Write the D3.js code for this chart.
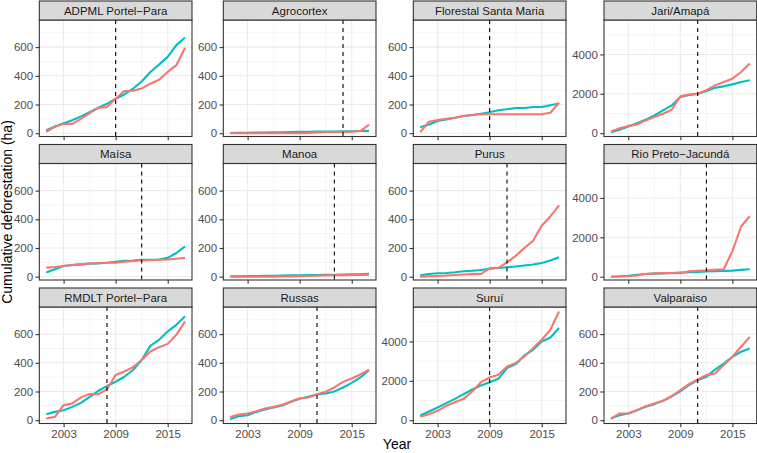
<!DOCTYPE html>
<html><head><meta charset="utf-8">
<script src="https://cdn.jsdelivr.net/npm/d3@7"></script>
<style>body{margin:0;background:#fff}svg{display:block;font-family:"Liberation Sans",Arial,sans-serif}</style>
</head><body><svg id="c" width="757" height="453"></svg>
<script>
const years = d3.range(2001, 2018);
const panels = ["ADPML Portel−Para","Agrocortex","Florestal Santa Maria","Jari/Amapá","Maísa","Manoa","Purus","Rio Preto−Jacundá","RMDLT Portel−Para","Russas","Suruí","Valparaiso"];
const interventionYear = [2009,2014,2009,2011,2012,2013,2011,2012,2008,2011,2009,2011];
const largeScale = [false,false,false,true,false,false,false,true,false,false,true,false];
// teal series (synthetic control) per panel
const tealSeries = [
 [20,47,70,90,117,147,177,205,240,270,310,360,427,478,532,614,667],
 [1,2,3,4,5,6,7,8,9,10,11,12,12,13,14,15,16],
 [42,61,85,96,108,120,127,136,146,160,167,176,176,183,183,195,207],
 [50,170,340,510,680,900,1160,1410,1840,1940,1990,2140,2310,2380,2480,2600,2690],
 [30,52,75,82,86,91,93,97,104,111,113,118,118,120,131,165,211],
 [2,3,4,5,6,7,8,9,10,11,12,13,14,15,16,17,20],
 [9,19,24,26,31,38,42,47,56,61,66,71,78,85,96,113,136],
 [0,20,50,100,140,155,170,190,205,225,240,260,275,295,310,345,380],
 [42,58,70,93,121,163,205,238,268,303,350,420,518,560,619,665,724],
 [9,28,35,58,74,88,102,128,149,163,179,186,200,228,260,298,349],
 [237,440,644,864,1085,1322,1560,1763,1932,2100,2644,2847,3288,3576,4000,4200,4680],
 [14,35,47,70,93,112,135,167,202,244,279,302,353,395,442,477,500]
];
// salmon series (observed) per panel
const redSeries = [
 [10,45,65,65,100,140,177,182,240,294,296,312,345,373,427,474,595],
 [0,0,0,0,0,0,0,0,0,2,5,8,8,9,10,15,60],
 [7,80,92,101,108,120,127,132,132,132,132,132,132,132,132,143,212],
 [85,255,370,440,650,820,990,1190,1870,1960,2010,2180,2430,2600,2770,3110,3540],
 [63,68,75,82,86,91,95,97,97,104,109,113,115,118,120,125,131],
 [0,0,0,0,0,0,1,2,3,5,7,9,10,11,12,13,14],
 [0,3,5,8,12,15,18,19,58,62,100,145,200,250,355,420,497],
 [0,10,20,60,140,170,180,180,175,280,300,320,350,380,1300,2550,3070],
 [12,23,105,117,159,182,182,215,315,339,369,420,479,509,532,595,689],
 [23,40,47,63,81,93,107,130,153,158,181,198,228,267,291,319,353],
 [170,305,475,730,915,1085,1458,1932,2170,2305,2730,2900,3237,3660,4085,4593,5525],
 [9,47,47,70,98,116,135,167,209,251,284,314,326,384,442,512,581]
];
const xTicks = [2003, 2009, 2015];
const xMinor = [2006, 2012];
const smallTicks = [0, 200, 400, 600];
const smallMinor = [100, 300, 500, 700];
const largeTicks = [0, 2000, 4000];
const largeMinor = [1000, 3000, 5000];
const smallDomain = [-23, 789];
const largeDomain = [-168, 5750];

const svg = d3.select("#c");
const colLeft = [39.3, 223.3, 413.3, 604];
const pw = 152.7, stripH = 19, ph = 116.5, rowStep = 143.5, top0 = 1;
const x = d3.scaleLinear().domain([2000.2, 2017.8]);
const line = (xs, ys) => d3.line().x((d,i)=>xs(years[i])).y(d=>ys(d));

panels.forEach((name, i) => {
  const r = Math.floor(i/4), c = i%4;
  const L = colLeft[c], T = top0 + r*rowStep + stripH;
  const xs = x.copy().range([L, L+pw]);
  const big = largeScale[i];
  const ys = d3.scaleLinear().domain(big ? largeDomain : smallDomain).range([T+ph, T]);
  const g = svg.append("g");
  g.append("rect").attr("x",L).attr("y",T).attr("width",pw).attr("height",ph).attr("fill","#fff");
  // minor grid
  (big?largeMinor:smallMinor).forEach(v=>g.append("line").attr("x1",L).attr("x2",L+pw).attr("y1",ys(v)).attr("y2",ys(v)).attr("stroke","#EBEBEB").attr("stroke-width",0.55));
  xMinor.forEach(v=>g.append("line").attr("y1",T).attr("y2",T+ph).attr("x1",xs(v)).attr("x2",xs(v)).attr("stroke","#EBEBEB").attr("stroke-width",0.55));
  (big?largeTicks:smallTicks).forEach(v=>g.append("line").attr("x1",L).attr("x2",L+pw).attr("y1",ys(v)).attr("y2",ys(v)).attr("stroke","#EBEBEB").attr("stroke-width",1.1));
  xTicks.forEach(v=>g.append("line").attr("y1",T).attr("y2",T+ph).attr("x1",xs(v)).attr("x2",xs(v)).attr("stroke","#EBEBEB").attr("stroke-width",1.1));
  // lines
  const cp = "clip"+i;
  svg.append("clipPath").attr("id",cp).append("rect").attr("x",L).attr("y",T).attr("width",pw).attr("height",ph);
  const lg = g.append("g").attr("clip-path",`url(#${cp})`);
  lg.append("path").attr("d",line(xs,ys)(tealSeries[i])).attr("fill","none").attr("stroke","#00BFC4").attr("stroke-width",2.1).attr("stroke-linejoin","round");
  lg.append("path").attr("d",line(xs,ys)(redSeries[i])).attr("fill","none").attr("stroke","#F8766D").attr("stroke-width",2.1).attr("stroke-linejoin","round");
  g.append("line").attr("x1",xs(interventionYear[i])).attr("x2",xs(interventionYear[i])).attr("y1",T).attr("y2",T+ph).attr("stroke","#000").attr("stroke-width",1.1).attr("stroke-dasharray","4,4");
  // border
  g.append("rect").attr("x",L).attr("y",T).attr("width",pw).attr("height",ph).attr("fill","none").attr("stroke","#333").attr("stroke-width",1.1);
  // strip
  g.append("rect").attr("x",L).attr("y",T-stripH).attr("width",pw).attr("height",stripH).attr("fill","#D9D9D9").attr("stroke","#333").attr("stroke-width",1.1);
  g.append("text").attr("x",L+pw/2).attr("y",T-stripH/2).attr("dy","0.35em").attr("text-anchor","middle").attr("font-size",11.5).attr("fill","#1A1A1A").text(name);
  // y axis
  const ya = g.append("g").attr("transform",`translate(${L},0)`).call(d3.axisLeft(ys).tickValues(big?largeTicks:smallTicks).tickSize(3.7).tickPadding(2.5).tickFormat(d3.format("d")));
  ya.select(".domain").remove();
  ya.selectAll("line").attr("stroke","#333").attr("stroke-width",1.1);
  ya.selectAll("text").attr("font-size",11.5).attr("fill","#4D4D4D").attr("font-family","Liberation Sans, Arial, sans-serif");
  // x axis on bottom row
  const xa = g.append("g").attr("transform",`translate(0,${T+ph})`).call(d3.axisBottom(xs).tickValues(xTicks).tickSize(3.7).tickPadding(2.5).tickFormat(d3.format("d")));
  xa.select(".domain").remove();
  xa.selectAll("line").attr("stroke","#333").attr("stroke-width",1.1);
  if (r === 2) xa.selectAll("text").attr("font-size",11.5).attr("fill","#4D4D4D").attr("font-family","Liberation Sans, Arial, sans-serif");
  else xa.selectAll("text").remove();
});
svg.append("text").attr("x",397).attr("y",449).attr("text-anchor","middle").attr("font-size",14).attr("fill","#000").text("Year");
svg.append("text").attr("transform","translate(12,212) rotate(-90)").attr("text-anchor","middle").attr("font-size",14).attr("fill","#000").text("Cumulative deforestation (ha)");
</script></body></html>
